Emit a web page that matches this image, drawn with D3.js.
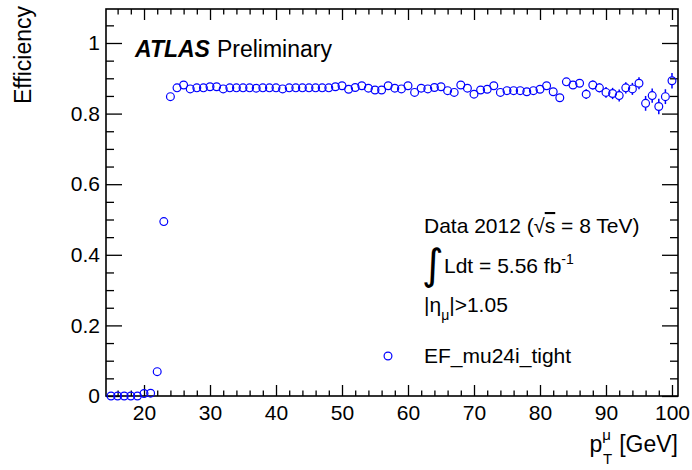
<!DOCTYPE html>
<html>
<head>
<meta charset="utf-8">
<script src="https://cdn.jsdelivr.net/npm/d3@7"></script>
<style>
  html, body { margin: 0; padding: 0; background: #fff; }
  svg { display: block; }
  text { font-family: "Liberation Sans", Arial, Helvetica, sans-serif; fill: #000; }
</style>
</head>
<body>
<svg id="chart" width="692" height="470"></svg>
<script>
// Muon trigger efficiency vs. muon transverse momentum (1 GeV bins)
const ptBins = [15, 16, 17, 18, 19, 20, 21, 22, 23, 24, 25, 26, 27, 28, 29, 30,
  31, 32, 33, 34, 35, 36, 37, 38, 39, 40, 41, 42, 43, 44, 45, 46, 47, 48, 49, 50,
  51, 52, 53, 54, 55, 56, 57, 58, 59, 60, 61, 62, 63, 64, 65, 66, 67, 68, 69, 70,
  71, 72, 73, 74, 75, 76, 77, 78, 79, 80, 81, 82, 83, 84, 85, 86, 87, 88, 89, 90,
  91, 92, 93, 94, 95, 96, 97, 98, 99, 100];

const efficiency = [0.000, 0.000, 0.000, 0.000, 0.000, 0.007, 0.008, 0.069, 0.494, 0.848,
  0.873, 0.881, 0.870, 0.873, 0.873, 0.876, 0.876, 0.870, 0.873, 0.873,
  0.873, 0.873, 0.872, 0.873, 0.873, 0.873, 0.870, 0.873, 0.873, 0.873,
  0.873, 0.873, 0.873, 0.873, 0.876, 0.879, 0.869, 0.874, 0.879, 0.872,
  0.867, 0.867, 0.879, 0.872, 0.870, 0.879, 0.860, 0.872, 0.870, 0.874,
  0.876, 0.865, 0.860, 0.881, 0.872, 0.855, 0.867, 0.869, 0.879, 0.860,
  0.865, 0.865, 0.865, 0.862, 0.865, 0.869, 0.879, 0.862, 0.845, 0.890,
  0.881, 0.886, 0.855, 0.881, 0.873, 0.860, 0.857, 0.851, 0.873, 0.870,
  0.886, 0.829, 0.851, 0.820, 0.848, 0.893];

// statistical uncertainty (symmetric half-width)
const efficiencyErr = [0.001, 0.001, 0.001, 0.001, 0.001, 0.002, 0.002, 0.004, 0.006, 0.004,
  0.003, 0.003, 0.003, 0.003, 0.003, 0.003, 0.003, 0.003, 0.003, 0.003,
  0.003, 0.003, 0.003, 0.003, 0.003, 0.003, 0.003, 0.003, 0.004, 0.004,
  0.004, 0.004, 0.004, 0.004, 0.004, 0.004, 0.004, 0.005, 0.005, 0.005,
  0.005, 0.005, 0.005, 0.005, 0.006, 0.006, 0.006, 0.006, 0.006, 0.006,
  0.007, 0.007, 0.007, 0.007, 0.007, 0.007, 0.008, 0.008, 0.008, 0.008,
  0.008, 0.008, 0.009, 0.009, 0.009, 0.009, 0.010, 0.010, 0.011, 0.011,
  0.011, 0.011, 0.014, 0.013, 0.013, 0.015, 0.016, 0.017, 0.016, 0.017,
  0.017, 0.021, 0.020, 0.022, 0.021, 0.022];

const xMajorTicks = [20, 30, 40, 50, 60, 70, 80, 90, 100];
const xMinorTicks = [16, 18, 22, 24, 26, 28, 32, 34, 36, 38, 42, 44, 46, 48, 52, 54, 56, 58,
  62, 64, 66, 68, 72, 74, 76, 78, 82, 84, 86, 88, 92, 94, 96, 98];
const yMajorTicks = [0, 0.2, 0.4, 0.6, 0.8, 1];
const yTickLabels = ["0", "0.2", "0.4", "0.6", "0.8", "1"];
const yMinorTicks = [0.05, 0.1, 0.15, 0.25, 0.3, 0.35, 0.45, 0.5, 0.55, 0.65, 0.7, 0.75,
  0.85, 0.9, 0.95, 1.05];

const svg = d3.select("#chart");
const frame = { left: 106, right: 678, top: 9, bottom: 396 };
const FS = 21;      // tick labels and annotation text
const FT = 23;      // axis titles and experiment label
const blue = "#0000ff";

const x = d3.scaleLinear().domain([14.24, 100.91]).range([frame.left, frame.right]);
const y = d3.scaleLinear().domain([0, 1.0963]).range([frame.bottom, frame.top]);

function styleAxis(g) {
  g.select(".domain").remove();
  g.selectAll(".tick line").attr("stroke", "#000").attr("stroke-width", 1.3);
  g.selectAll("text").style("font-family", '"Liberation Sans", Arial, sans-serif')
    .style("font-size", FS + "px").attr("fill", "#000");
}

// bottom axis: labelled major ticks + minor ticks, all pointing inward
svg.append("g").attr("transform", `translate(0,${frame.bottom})`)
  .call(d3.axisBottom(x).tickValues(xMajorTicks).tickSizeInner(-11).tickSizeOuter(0).tickPadding(9))
  .call(styleAxis);
svg.append("g").attr("transform", `translate(0,${frame.bottom})`)
  .call(d3.axisBottom(x).tickValues(xMinorTicks).tickSizeInner(-5.5).tickSizeOuter(0).tickFormat(""))
  .call(styleAxis);
// top axis mirrors the ticks
svg.append("g").attr("transform", `translate(0,${frame.top})`)
  .call(d3.axisTop(x).tickValues(xMajorTicks).tickSizeInner(-11).tickSizeOuter(0).tickFormat(""))
  .call(styleAxis);
svg.append("g").attr("transform", `translate(0,${frame.top})`)
  .call(d3.axisTop(x).tickValues(xMinorTicks).tickSizeInner(-5.5).tickSizeOuter(0).tickFormat(""))
  .call(styleAxis);

// left axis
svg.append("g").attr("transform", `translate(${frame.left},0)`)
  .call(d3.axisLeft(y).tickValues(yMajorTicks).tickSizeInner(-16).tickSizeOuter(0).tickPadding(6)
    .tickFormat((d, i) => yTickLabels[i]))
  .call(styleAxis);
svg.append("g").attr("transform", `translate(${frame.left},0)`)
  .call(d3.axisLeft(y).tickValues(yMinorTicks).tickSizeInner(-8).tickSizeOuter(0).tickFormat(""))
  .call(styleAxis);
// right axis mirrors the ticks
svg.append("g").attr("transform", `translate(${frame.right},0)`)
  .call(d3.axisRight(y).tickValues(yMajorTicks).tickSizeInner(-16).tickSizeOuter(0).tickFormat(""))
  .call(styleAxis);
svg.append("g").attr("transform", `translate(${frame.right},0)`)
  .call(d3.axisRight(y).tickValues(yMinorTicks).tickSizeInner(-8).tickSizeOuter(0).tickFormat(""))
  .call(styleAxis);

// frame
svg.append("rect")
  .attr("x", frame.left).attr("y", frame.top)
  .attr("width", frame.right - frame.left).attr("height", frame.bottom - frame.top)
  .attr("fill", "none").attr("stroke", "#000").attr("stroke-width", 1.6);

// data: open circles with error bars drawn outside the marker
const points = ptBins.map((pt, i) => ({ pt, eff: efficiency[i], err: efficiencyErr[i] }));
const R = 3.9;
const gData = svg.append("g");
points.forEach(p => {
  const cx = x(p.pt), cy = y(p.eff);
  const up = y(p.eff + p.err), dn = y(p.eff - p.err);
  if (cy - up > R) {
    gData.append("line").attr("x1", cx).attr("x2", cx).attr("y1", up).attr("y2", cy - R)
      .attr("stroke", blue).attr("stroke-width", 1.5);
    gData.append("line").attr("x1", cx).attr("x2", cx).attr("y1", cy + R).attr("y2", dn)
      .attr("stroke", blue).attr("stroke-width", 1.5);
  }
});
gData.selectAll("circle").data(points).join("circle")
  .attr("cx", d => x(d.pt)).attr("cy", d => y(d.eff)).attr("r", R)
  .attr("fill", "none").attr("stroke", blue).attr("stroke-width", 1.2);

// axis titles
const xt = svg.append("text").attr("x", frame.right).attr("y", 452)
  .attr("text-anchor", "end").style("font-size", FT + "px");
xt.append("tspan").text("p");
xt.append("tspan").attr("dy", -12).attr("dx", 0).style("font-size", "15px").text("μ");
xt.append("tspan").attr("dy", 24).attr("dx", -8).style("font-size", "15px").text("T");
xt.append("tspan").attr("dy", -12).attr("dx", 7).text("[GeV]");

svg.append("text").attr("transform", "translate(31,6) rotate(-90)")
  .attr("text-anchor", "end").style("font-size", FT + "px").text("Efficiency");

// ATLAS label
const atl = svg.append("text").attr("x", 135).attr("y", 57).style("font-size", FT + "px");
atl.append("tspan").style("font-weight", "bold").style("font-style", "italic").text("ATLAS");
atl.append("tspan").attr("dx", 7).text("Preliminary");

// run conditions
const dt = svg.append("text").attr("x", 424).attr("y", 233).style("font-size", FS + "px");
dt.append("tspan").text("Data 2012 (");
dt.append("tspan").style("font-size", "20px").text("√");
dt.append("tspan").style("text-decoration", "overline").text("s");
dt.append("tspan").text(" = 8 TeV)");

svg.append("text").attr("x", 422).attr("y", 279)
  .style("font-family", '"DejaVu Sans", sans-serif').style("font-size", "42px").text("∫");
const lum = svg.append("text").attr("x", 444).attr("y", 273).style("font-size", FS + "px");
lum.append("tspan").text("Ldt = 5.56 fb");
lum.append("tspan").attr("dy", -9).style("font-size", "14px").text("-1");

const eta = svg.append("text").attr("x", 424).attr("y", 312).style("font-size", FS + "px");
eta.append("tspan").text("|η");
eta.append("tspan").attr("dy", 8).style("font-size", "14px").text("μ");
eta.append("tspan").attr("dy", -8).text("|>1.05");

// legend
svg.append("circle").attr("cx", 388).attr("cy", 356).attr("r", R)
  .attr("fill", "none").attr("stroke", blue).attr("stroke-width", 1.2);
svg.append("text").attr("x", 424).attr("y", 363).style("font-size", FS + "px").text("EF_mu24i_tight");
</script>
</body>
</html>
